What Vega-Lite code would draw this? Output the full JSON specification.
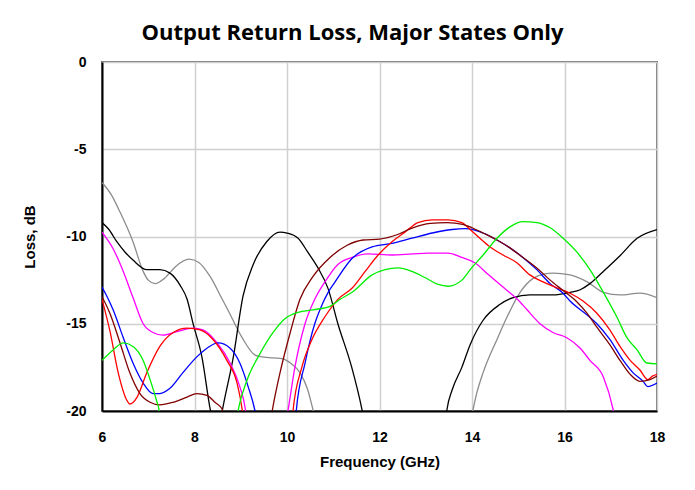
{
  "$schema": "https://vega.github.io/schema/vega-lite/v6.json",
  "autosize": {"type": "none"},
  "width": 555,
  "height": 349,
  "padding": {"left": 102, "top": 62, "right": 38, "bottom": 79},
  "background": "white",
  "title": {
    "text": "Output Return Loss, Major States Only",
    "font": "Open Sans",
    "fontSize": 22,
    "fontWeight": "bold",
    "color": "black",
    "anchor": "middle",
    "dx": -27,
    "offset": 10
  },
  "config": {
    "view": {"stroke": "#737373", "strokeWidth": 2},
    "axis": {
      "labelFont": "Liberation Sans",
      "labelFontWeight": "bold",
      "labelFontSize": 14,
      "labelColor": "black",
      "titleFont": "Liberation Sans",
      "titleFontWeight": "bold",
      "titleFontSize": 15,
      "titleColor": "black",
      "domainColor": "black",
      "domainWidth": 2,
      "ticks": false,
      "tickSize": 0,
      "gridColor": "#d0d0d0",
      "gridWidth": 1.5
    }
  },
  "data": {
    "values": [
      {"series": "gray", "seg": 1, "freq": 6, "loss": -6.9},
      {"series": "gray", "seg": 1, "freq": 6.2, "loss": -7.6},
      {"series": "gray", "seg": 1, "freq": 6.39, "loss": -8.6},
      {"series": "gray", "seg": 1, "freq": 6.67, "loss": -10.3},
      {"series": "gray", "seg": 1, "freq": 6.89, "loss": -12.0},
      {"series": "gray", "seg": 1, "freq": 7.0, "loss": -12.5},
      {"series": "gray", "seg": 1, "freq": 7.15, "loss": -12.7},
      {"series": "gray", "seg": 1, "freq": 7.35, "loss": -12.4},
      {"series": "gray", "seg": 1, "freq": 7.6, "loss": -11.7},
      {"series": "gray", "seg": 1, "freq": 7.88, "loss": -11.3},
      {"series": "gray", "seg": 1, "freq": 8.1, "loss": -11.5},
      {"series": "gray", "seg": 1, "freq": 8.34, "loss": -12.3},
      {"series": "gray", "seg": 1, "freq": 8.6, "loss": -13.6},
      {"series": "gray", "seg": 1, "freq": 8.72, "loss": -14.2},
      {"series": "gray", "seg": 1, "freq": 9.03, "loss": -15.8},
      {"series": "gray", "seg": 1, "freq": 9.31, "loss": -16.8},
      {"series": "gray", "seg": 1, "freq": 9.46, "loss": -16.9},
      {"series": "gray", "seg": 1, "freq": 9.89, "loss": -17.0},
      {"series": "gray", "seg": 1, "freq": 10.1, "loss": -17.3},
      {"series": "gray", "seg": 1, "freq": 10.28, "loss": -17.8},
      {"series": "gray", "seg": 1, "freq": 10.45, "loss": -18.8},
      {"series": "gray", "seg": 1, "freq": 10.56, "loss": -19.9},
      {"series": "gray", "seg": 1, "freq": 10.6, "loss": -20.3},
      {"series": "gray", "seg": 2, "freq": 14.0, "loss": -20.2},
      {"series": "gray", "seg": 2, "freq": 14.1, "loss": -19.0},
      {"series": "gray", "seg": 2, "freq": 14.24, "loss": -17.8},
      {"series": "gray", "seg": 2, "freq": 14.54, "loss": -15.9},
      {"series": "gray", "seg": 2, "freq": 14.76, "loss": -14.6},
      {"series": "gray", "seg": 2, "freq": 15.04, "loss": -13.2},
      {"series": "gray", "seg": 2, "freq": 15.32, "loss": -12.4},
      {"series": "gray", "seg": 2, "freq": 15.55, "loss": -12.15},
      {"series": "gray", "seg": 2, "freq": 15.75, "loss": -12.1},
      {"series": "gray", "seg": 2, "freq": 16.12, "loss": -12.2},
      {"series": "gray", "seg": 2, "freq": 16.49, "loss": -12.6},
      {"series": "gray", "seg": 2, "freq": 16.84, "loss": -13.2},
      {"series": "gray", "seg": 2, "freq": 17.2, "loss": -13.35},
      {"series": "gray", "seg": 2, "freq": 17.63, "loss": -13.25},
      {"series": "gray", "seg": 2, "freq": 18, "loss": -13.5},

      {"series": "black", "seg": 1, "freq": 6, "loss": -9.2},
      {"series": "black", "seg": 1, "freq": 6.15, "loss": -9.6},
      {"series": "black", "seg": 1, "freq": 6.32, "loss": -10.3},
      {"series": "black", "seg": 1, "freq": 6.5, "loss": -10.9},
      {"series": "black", "seg": 1, "freq": 6.67, "loss": -11.35},
      {"series": "black", "seg": 1, "freq": 6.97, "loss": -11.9},
      {"series": "black", "seg": 1, "freq": 7.25, "loss": -11.9},
      {"series": "black", "seg": 1, "freq": 7.47, "loss": -12.1},
      {"series": "black", "seg": 1, "freq": 7.69, "loss": -12.8},
      {"series": "black", "seg": 1, "freq": 7.84, "loss": -13.6},
      {"series": "black", "seg": 1, "freq": 7.97, "loss": -15.0},
      {"series": "black", "seg": 1, "freq": 8.16, "loss": -16.9},
      {"series": "black", "seg": 1, "freq": 8.34, "loss": -19.9},
      {"series": "black", "seg": 1, "freq": 8.37, "loss": -20.3},
      {"series": "black", "seg": 2, "freq": 8.58, "loss": -20.3},
      {"series": "black", "seg": 2, "freq": 8.6, "loss": -20.0},
      {"series": "black", "seg": 2, "freq": 8.84, "loss": -16.9},
      {"series": "black", "seg": 2, "freq": 9.05, "loss": -13.4},
      {"series": "black", "seg": 2, "freq": 9.27, "loss": -11.6},
      {"series": "black", "seg": 2, "freq": 9.56, "loss": -10.3},
      {"series": "black", "seg": 2, "freq": 9.85, "loss": -9.75},
      {"series": "black", "seg": 2, "freq": 10.0, "loss": -9.8},
      {"series": "black", "seg": 2, "freq": 10.24, "loss": -10.1},
      {"series": "black", "seg": 2, "freq": 10.45, "loss": -10.9},
      {"series": "black", "seg": 2, "freq": 10.67, "loss": -11.8},
      {"series": "black", "seg": 2, "freq": 10.89, "loss": -13.0},
      {"series": "black", "seg": 2, "freq": 11.1, "loss": -15.0},
      {"series": "black", "seg": 2, "freq": 11.4, "loss": -17.5},
      {"series": "black", "seg": 2, "freq": 11.62, "loss": -19.9},
      {"series": "black", "seg": 2, "freq": 11.65, "loss": -20.3},
      {"series": "black", "seg": 3, "freq": 13.44, "loss": -20.3},
      {"series": "black", "seg": 3, "freq": 13.46, "loss": -19.9},
      {"series": "black", "seg": 3, "freq": 13.57, "loss": -18.8},
      {"series": "black", "seg": 3, "freq": 13.78, "loss": -17.5},
      {"series": "black", "seg": 3, "freq": 13.96, "loss": -16.2},
      {"series": "black", "seg": 3, "freq": 14.24, "loss": -14.8},
      {"series": "black", "seg": 3, "freq": 14.6, "loss": -13.9},
      {"series": "black", "seg": 3, "freq": 14.89, "loss": -13.5},
      {"series": "black", "seg": 3, "freq": 15.25, "loss": -13.35},
      {"series": "black", "seg": 3, "freq": 15.75, "loss": -13.35},
      {"series": "black", "seg": 3, "freq": 16.12, "loss": -13.2},
      {"series": "black", "seg": 3, "freq": 16.34, "loss": -13.05},
      {"series": "black", "seg": 3, "freq": 16.55, "loss": -12.7},
      {"series": "black", "seg": 3, "freq": 16.84, "loss": -12.0},
      {"series": "black", "seg": 3, "freq": 17.2, "loss": -11.1},
      {"series": "black", "seg": 3, "freq": 17.57, "loss": -10.1},
      {"series": "black", "seg": 3, "freq": 18, "loss": -9.6},

      {"series": "magenta", "seg": 1, "freq": 6, "loss": -9.75},
      {"series": "magenta", "seg": 1, "freq": 6.24, "loss": -10.7},
      {"series": "magenta", "seg": 1, "freq": 6.46, "loss": -12.0},
      {"series": "magenta", "seg": 1, "freq": 6.67, "loss": -13.5},
      {"series": "magenta", "seg": 1, "freq": 6.89, "loss": -15.0},
      {"series": "magenta", "seg": 1, "freq": 7.1, "loss": -15.5},
      {"series": "magenta", "seg": 1, "freq": 7.32, "loss": -15.65},
      {"series": "magenta", "seg": 1, "freq": 7.62, "loss": -15.45},
      {"series": "magenta", "seg": 1, "freq": 7.97, "loss": -15.25},
      {"series": "magenta", "seg": 1, "freq": 8.18, "loss": -15.35},
      {"series": "magenta", "seg": 1, "freq": 8.49, "loss": -16.1},
      {"series": "magenta", "seg": 1, "freq": 8.77, "loss": -17.25},
      {"series": "magenta", "seg": 1, "freq": 8.98, "loss": -18.6},
      {"series": "magenta", "seg": 1, "freq": 9.1, "loss": -19.9},
      {"series": "magenta", "seg": 1, "freq": 9.12, "loss": -20.3},
      {"series": "magenta", "seg": 2, "freq": 10.0, "loss": -20.3},
      {"series": "magenta", "seg": 2, "freq": 10.02, "loss": -20.0},
      {"series": "magenta", "seg": 2, "freq": 10.17, "loss": -17.5},
      {"series": "magenta", "seg": 2, "freq": 10.39, "loss": -15.0},
      {"series": "magenta", "seg": 2, "freq": 10.6, "loss": -13.6},
      {"series": "magenta", "seg": 2, "freq": 10.82, "loss": -12.6},
      {"series": "magenta", "seg": 2, "freq": 11.1, "loss": -11.6},
      {"series": "magenta", "seg": 2, "freq": 11.41, "loss": -11.2},
      {"series": "magenta", "seg": 2, "freq": 11.75, "loss": -11.0},
      {"series": "magenta", "seg": 2, "freq": 12.27, "loss": -11.06},
      {"series": "magenta", "seg": 2, "freq": 12.7, "loss": -11.0},
      {"series": "magenta", "seg": 2, "freq": 13.05, "loss": -10.95},
      {"series": "magenta", "seg": 2, "freq": 13.48, "loss": -10.95},
      {"series": "magenta", "seg": 2, "freq": 13.78, "loss": -11.2},
      {"series": "magenta", "seg": 2, "freq": 14.06, "loss": -11.5},
      {"series": "magenta", "seg": 2, "freq": 14.32, "loss": -12.1},
      {"series": "magenta", "seg": 2, "freq": 14.67, "loss": -12.9},
      {"series": "magenta", "seg": 2, "freq": 15.04, "loss": -13.75},
      {"series": "magenta", "seg": 2, "freq": 15.19, "loss": -14.2},
      {"series": "magenta", "seg": 2, "freq": 15.47, "loss": -15.0},
      {"series": "magenta", "seg": 2, "freq": 15.75, "loss": -15.5},
      {"series": "magenta", "seg": 2, "freq": 16.05, "loss": -15.8},
      {"series": "magenta", "seg": 2, "freq": 16.34, "loss": -16.4},
      {"series": "magenta", "seg": 2, "freq": 16.55, "loss": -17.1},
      {"series": "magenta", "seg": 2, "freq": 16.84, "loss": -18.05},
      {"series": "magenta", "seg": 2, "freq": 17.05, "loss": -19.9},
      {"series": "magenta", "seg": 2, "freq": 17.08, "loss": -20.3},

      {"series": "blue", "seg": 1, "freq": 6, "loss": -12.9},
      {"series": "blue", "seg": 1, "freq": 6.1, "loss": -13.4},
      {"series": "blue", "seg": 1, "freq": 6.24, "loss": -14.2},
      {"series": "blue", "seg": 1, "freq": 6.46, "loss": -15.8},
      {"series": "blue", "seg": 1, "freq": 6.67, "loss": -17.25},
      {"series": "blue", "seg": 1, "freq": 6.89, "loss": -18.4},
      {"series": "blue", "seg": 1, "freq": 7.1, "loss": -19.0},
      {"series": "blue", "seg": 1, "freq": 7.25, "loss": -19.0},
      {"series": "blue", "seg": 1, "freq": 7.47, "loss": -18.7},
      {"series": "blue", "seg": 1, "freq": 7.75, "loss": -17.8},
      {"series": "blue", "seg": 1, "freq": 8.05, "loss": -16.9},
      {"series": "blue", "seg": 1, "freq": 8.27, "loss": -16.4},
      {"series": "blue", "seg": 1, "freq": 8.51, "loss": -16.1},
      {"series": "blue", "seg": 1, "freq": 8.77, "loss": -16.4},
      {"series": "blue", "seg": 1, "freq": 8.98, "loss": -17.25},
      {"series": "blue", "seg": 1, "freq": 9.16, "loss": -18.6},
      {"series": "blue", "seg": 1, "freq": 9.3, "loss": -19.9},
      {"series": "blue", "seg": 1, "freq": 9.33, "loss": -20.3},
      {"series": "blue", "seg": 2, "freq": 10.19, "loss": -20.3},
      {"series": "blue", "seg": 2, "freq": 10.2, "loss": -20.0},
      {"series": "blue", "seg": 2, "freq": 10.39, "loss": -17.25},
      {"series": "blue", "seg": 2, "freq": 10.6, "loss": -15.0},
      {"series": "blue", "seg": 2, "freq": 10.76, "loss": -13.9},
      {"series": "blue", "seg": 2, "freq": 10.89, "loss": -13.2},
      {"series": "blue", "seg": 2, "freq": 11.04, "loss": -12.6},
      {"series": "blue", "seg": 2, "freq": 11.41, "loss": -11.25},
      {"series": "blue", "seg": 2, "freq": 11.84, "loss": -10.6},
      {"series": "blue", "seg": 2, "freq": 12.27, "loss": -10.4},
      {"series": "blue", "seg": 2, "freq": 12.7, "loss": -10.1},
      {"series": "blue", "seg": 2, "freq": 13.14, "loss": -9.8},
      {"series": "blue", "seg": 2, "freq": 13.57, "loss": -9.6},
      {"series": "blue", "seg": 2, "freq": 13.85, "loss": -9.55},
      {"series": "blue", "seg": 2, "freq": 14.24, "loss": -9.8},
      {"series": "blue", "seg": 2, "freq": 14.54, "loss": -10.2},
      {"series": "blue", "seg": 2, "freq": 14.82, "loss": -10.65},
      {"series": "blue", "seg": 2, "freq": 15.1, "loss": -11.2},
      {"series": "blue", "seg": 2, "freq": 15.4, "loss": -11.9},
      {"series": "blue", "seg": 2, "freq": 15.69, "loss": -12.7},
      {"series": "blue", "seg": 2, "freq": 15.97, "loss": -13.25},
      {"series": "blue", "seg": 2, "freq": 16.12, "loss": -13.7},
      {"series": "blue", "seg": 2, "freq": 16.49, "loss": -14.5},
      {"series": "blue", "seg": 2, "freq": 16.7, "loss": -15.0},
      {"series": "blue", "seg": 2, "freq": 16.98, "loss": -15.9},
      {"series": "blue", "seg": 2, "freq": 17.27, "loss": -17.1},
      {"series": "blue", "seg": 2, "freq": 17.48, "loss": -17.8},
      {"series": "blue", "seg": 2, "freq": 17.7, "loss": -18.3},
      {"series": "blue", "seg": 2, "freq": 17.8, "loss": -18.6},
      {"series": "blue", "seg": 2, "freq": 18, "loss": -18.4},

      {"series": "red", "seg": 1, "freq": 6, "loss": -13.6},
      {"series": "red", "seg": 1, "freq": 6.17, "loss": -15.4},
      {"series": "red", "seg": 1, "freq": 6.35, "loss": -17.8},
      {"series": "red", "seg": 1, "freq": 6.54, "loss": -19.4},
      {"series": "red", "seg": 1, "freq": 6.6, "loss": -19.6},
      {"series": "red", "seg": 1, "freq": 6.76, "loss": -19.2},
      {"series": "red", "seg": 1, "freq": 6.97, "loss": -17.8},
      {"series": "red", "seg": 1, "freq": 7.25, "loss": -16.3},
      {"series": "red", "seg": 1, "freq": 7.54, "loss": -15.5},
      {"series": "red", "seg": 1, "freq": 7.84, "loss": -15.25},
      {"series": "red", "seg": 1, "freq": 8.12, "loss": -15.35},
      {"series": "red", "seg": 1, "freq": 8.4, "loss": -15.9},
      {"series": "red", "seg": 1, "freq": 8.7, "loss": -17.1},
      {"series": "red", "seg": 1, "freq": 8.92, "loss": -18.4},
      {"series": "red", "seg": 1, "freq": 9.03, "loss": -19.9},
      {"series": "red", "seg": 1, "freq": 9.05, "loss": -20.3},
      {"series": "red", "seg": 2, "freq": 10.12, "loss": -20.3},
      {"series": "red", "seg": 2, "freq": 10.13, "loss": -20.0},
      {"series": "red", "seg": 2, "freq": 10.32, "loss": -17.5},
      {"series": "red", "seg": 2, "freq": 10.54, "loss": -15.9},
      {"series": "red", "seg": 2, "freq": 10.82, "loss": -14.6},
      {"series": "red", "seg": 2, "freq": 11.1, "loss": -13.6},
      {"series": "red", "seg": 2, "freq": 11.41, "loss": -12.95},
      {"series": "red", "seg": 2, "freq": 11.69, "loss": -12.0},
      {"series": "red", "seg": 2, "freq": 11.97, "loss": -11.06},
      {"series": "red", "seg": 2, "freq": 12.27, "loss": -10.3},
      {"series": "red", "seg": 2, "freq": 12.55, "loss": -9.75},
      {"series": "red", "seg": 2, "freq": 12.83, "loss": -9.2},
      {"series": "red", "seg": 2, "freq": 13.14, "loss": -9.05},
      {"series": "red", "seg": 2, "freq": 13.48, "loss": -9.05},
      {"series": "red", "seg": 2, "freq": 13.78, "loss": -9.2},
      {"series": "red", "seg": 2, "freq": 13.96, "loss": -9.6},
      {"series": "red", "seg": 2, "freq": 14.17, "loss": -10.1},
      {"series": "red", "seg": 2, "freq": 14.39, "loss": -10.6},
      {"series": "red", "seg": 2, "freq": 14.67, "loss": -11.06},
      {"series": "red", "seg": 2, "freq": 14.97, "loss": -11.5},
      {"series": "red", "seg": 2, "freq": 15.25, "loss": -12.2},
      {"series": "red", "seg": 2, "freq": 15.54, "loss": -12.6},
      {"series": "red", "seg": 2, "freq": 15.84, "loss": -12.95},
      {"series": "red", "seg": 2, "freq": 16.12, "loss": -13.25},
      {"series": "red", "seg": 2, "freq": 16.4, "loss": -13.7},
      {"series": "red", "seg": 2, "freq": 16.7, "loss": -14.4},
      {"series": "red", "seg": 2, "freq": 16.98, "loss": -15.35},
      {"series": "red", "seg": 2, "freq": 17.2, "loss": -16.3},
      {"series": "red", "seg": 2, "freq": 17.42, "loss": -17.1},
      {"series": "red", "seg": 2, "freq": 17.63, "loss": -17.65},
      {"series": "red", "seg": 2, "freq": 17.8, "loss": -18.2},
      {"series": "red", "seg": 2, "freq": 17.9, "loss": -18.0},
      {"series": "red", "seg": 2, "freq": 18, "loss": -17.9},

      {"series": "maroon", "seg": 1, "freq": 6, "loss": -13.45},
      {"series": "maroon", "seg": 1, "freq": 6.17, "loss": -14.4},
      {"series": "maroon", "seg": 1, "freq": 6.39, "loss": -16.1},
      {"series": "maroon", "seg": 1, "freq": 6.6, "loss": -17.8},
      {"series": "maroon", "seg": 1, "freq": 6.82, "loss": -19.0},
      {"series": "maroon", "seg": 1, "freq": 7.04, "loss": -19.5},
      {"series": "maroon", "seg": 1, "freq": 7.25, "loss": -19.65},
      {"series": "maroon", "seg": 1, "freq": 7.54, "loss": -19.5},
      {"series": "maroon", "seg": 1, "freq": 7.84, "loss": -19.2},
      {"series": "maroon", "seg": 1, "freq": 8.05, "loss": -19.0},
      {"series": "maroon", "seg": 1, "freq": 8.27, "loss": -19.1},
      {"series": "maroon", "seg": 1, "freq": 8.44, "loss": -19.5},
      {"series": "maroon", "seg": 1, "freq": 8.6, "loss": -19.9},
      {"series": "maroon", "seg": 1, "freq": 8.63, "loss": -20.3},
      {"series": "maroon", "seg": 2, "freq": 9.66, "loss": -20.3},
      {"series": "maroon", "seg": 2, "freq": 9.7, "loss": -19.7},
      {"series": "maroon", "seg": 2, "freq": 9.85, "loss": -17.8},
      {"series": "maroon", "seg": 2, "freq": 10.07, "loss": -15.5},
      {"series": "maroon", "seg": 2, "freq": 10.28, "loss": -13.6},
      {"series": "maroon", "seg": 2, "freq": 10.56, "loss": -12.3},
      {"series": "maroon", "seg": 2, "freq": 10.93, "loss": -11.2},
      {"series": "maroon", "seg": 2, "freq": 11.3, "loss": -10.5},
      {"series": "maroon", "seg": 2, "freq": 11.65, "loss": -10.2},
      {"series": "maroon", "seg": 2, "freq": 12.0, "loss": -10.15},
      {"series": "maroon", "seg": 2, "freq": 12.38, "loss": -9.9},
      {"series": "maroon", "seg": 2, "freq": 12.72, "loss": -9.5},
      {"series": "maroon", "seg": 2, "freq": 13.1, "loss": -9.25},
      {"series": "maroon", "seg": 2, "freq": 13.46, "loss": -9.2},
      {"series": "maroon", "seg": 2, "freq": 13.8, "loss": -9.3},
      {"series": "maroon", "seg": 2, "freq": 14.0, "loss": -9.5},
      {"series": "maroon", "seg": 2, "freq": 14.24, "loss": -9.8},
      {"series": "maroon", "seg": 2, "freq": 14.54, "loss": -10.2},
      {"series": "maroon", "seg": 2, "freq": 14.82, "loss": -10.65},
      {"series": "maroon", "seg": 2, "freq": 15.1, "loss": -11.2},
      {"series": "maroon", "seg": 2, "freq": 15.4, "loss": -11.8},
      {"series": "maroon", "seg": 2, "freq": 15.69, "loss": -12.5},
      {"series": "maroon", "seg": 2, "freq": 15.97, "loss": -13.1},
      {"series": "maroon", "seg": 2, "freq": 16.27, "loss": -13.75},
      {"series": "maroon", "seg": 2, "freq": 16.49, "loss": -14.4},
      {"series": "maroon", "seg": 2, "freq": 16.7, "loss": -15.2},
      {"series": "maroon", "seg": 2, "freq": 16.98, "loss": -16.2},
      {"series": "maroon", "seg": 2, "freq": 17.2, "loss": -17.1},
      {"series": "maroon", "seg": 2, "freq": 17.42, "loss": -17.9},
      {"series": "maroon", "seg": 2, "freq": 17.63, "loss": -18.3},
      {"series": "maroon", "seg": 2, "freq": 17.85, "loss": -18.2},
      {"series": "maroon", "seg": 2, "freq": 18, "loss": -18.0},

      {"series": "green", "seg": 1, "freq": 6, "loss": -17.1},
      {"series": "green", "seg": 1, "freq": 6.24, "loss": -16.5},
      {"series": "green", "seg": 1, "freq": 6.46, "loss": -16.1},
      {"series": "green", "seg": 1, "freq": 6.67, "loss": -16.3},
      {"series": "green", "seg": 1, "freq": 6.89, "loss": -17.1},
      {"series": "green", "seg": 1, "freq": 7.04, "loss": -18.2},
      {"series": "green", "seg": 1, "freq": 7.19, "loss": -19.5},
      {"series": "green", "seg": 1, "freq": 7.23, "loss": -19.9},
      {"series": "green", "seg": 1, "freq": 7.25, "loss": -20.3},
      {"series": "green", "seg": 2, "freq": 8.92, "loss": -20.3},
      {"series": "green", "seg": 2, "freq": 8.94, "loss": -20.0},
      {"series": "green", "seg": 2, "freq": 9.14, "loss": -18.2},
      {"series": "green", "seg": 2, "freq": 9.42, "loss": -16.7},
      {"series": "green", "seg": 2, "freq": 9.7, "loss": -15.5},
      {"series": "green", "seg": 2, "freq": 9.96, "loss": -14.7},
      {"series": "green", "seg": 2, "freq": 10.24, "loss": -14.35},
      {"series": "green", "seg": 2, "freq": 10.56, "loss": -14.2},
      {"series": "green", "seg": 2, "freq": 10.93, "loss": -14.0},
      {"series": "green", "seg": 2, "freq": 11.15, "loss": -13.6},
      {"series": "green", "seg": 2, "freq": 11.43, "loss": -13.15},
      {"series": "green", "seg": 2, "freq": 11.84, "loss": -12.2},
      {"series": "green", "seg": 2, "freq": 12.12, "loss": -11.9},
      {"series": "green", "seg": 2, "freq": 12.4, "loss": -11.8},
      {"series": "green", "seg": 2, "freq": 12.7, "loss": -12.0},
      {"series": "green", "seg": 2, "freq": 12.98, "loss": -12.35},
      {"series": "green", "seg": 2, "freq": 13.27, "loss": -12.75},
      {"series": "green", "seg": 2, "freq": 13.48, "loss": -12.85},
      {"series": "green", "seg": 2, "freq": 13.78, "loss": -12.5},
      {"series": "green", "seg": 2, "freq": 13.96, "loss": -11.9},
      {"series": "green", "seg": 2, "freq": 14.24, "loss": -11.06},
      {"series": "green", "seg": 2, "freq": 14.54, "loss": -10.1},
      {"series": "green", "seg": 2, "freq": 14.82, "loss": -9.45},
      {"series": "green", "seg": 2, "freq": 15.1, "loss": -9.15},
      {"series": "green", "seg": 2, "freq": 15.4, "loss": -9.2},
      {"series": "green", "seg": 2, "freq": 15.69, "loss": -9.5},
      {"series": "green", "seg": 2, "freq": 15.97, "loss": -10.1},
      {"series": "green", "seg": 2, "freq": 16.27, "loss": -10.9},
      {"series": "green", "seg": 2, "freq": 16.55, "loss": -11.9},
      {"series": "green", "seg": 2, "freq": 16.84, "loss": -13.2},
      {"series": "green", "seg": 2, "freq": 17.13, "loss": -14.6},
      {"series": "green", "seg": 2, "freq": 17.35, "loss": -15.8},
      {"series": "green", "seg": 2, "freq": 17.57, "loss": -16.5},
      {"series": "green", "seg": 2, "freq": 17.78, "loss": -17.25},
      {"series": "green", "seg": 2, "freq": 18, "loss": -17.3}
    ]
  },
  "mark": {"type": "line", "clip": true, "strokeWidth": 1.3, "interpolate": "monotone"},
  "encoding": {
    "x": {
      "field": "freq",
      "type": "quantitative",
      "scale": {"domain": [6, 18], "nice": false, "zero": false},
      "axis": {"title": "Frequency (GHz)", "values": [6, 8, 10, 12, 14, 16, 18], "labelPadding": 19, "titlePadding": 10, "labelFlush": false}
    },
    "y": {
      "field": "loss",
      "type": "quantitative",
      "scale": {"domain": [-20, 0], "nice": false},
      "axis": {"title": "Loss, dB", "values": [0, -5, -10, -15, -20], "labelExpr": "toString(datum.value)", "labelPadding": 16, "titlePadding": 28, "labelFlush": false}
    },
    "color": {
      "field": "series",
      "type": "nominal",
      "scale": {
        "domain": ["gray", "black", "magenta", "blue", "red", "maroon", "green"],
        "range": ["#8c8c8c", "#000000", "#ff00ff", "#0000ff", "#ff0000", "#800000", "#00ee00"]
      },
      "legend": null
    },
    "detail": {"field": "seg", "type": "nominal"}
  }
}
